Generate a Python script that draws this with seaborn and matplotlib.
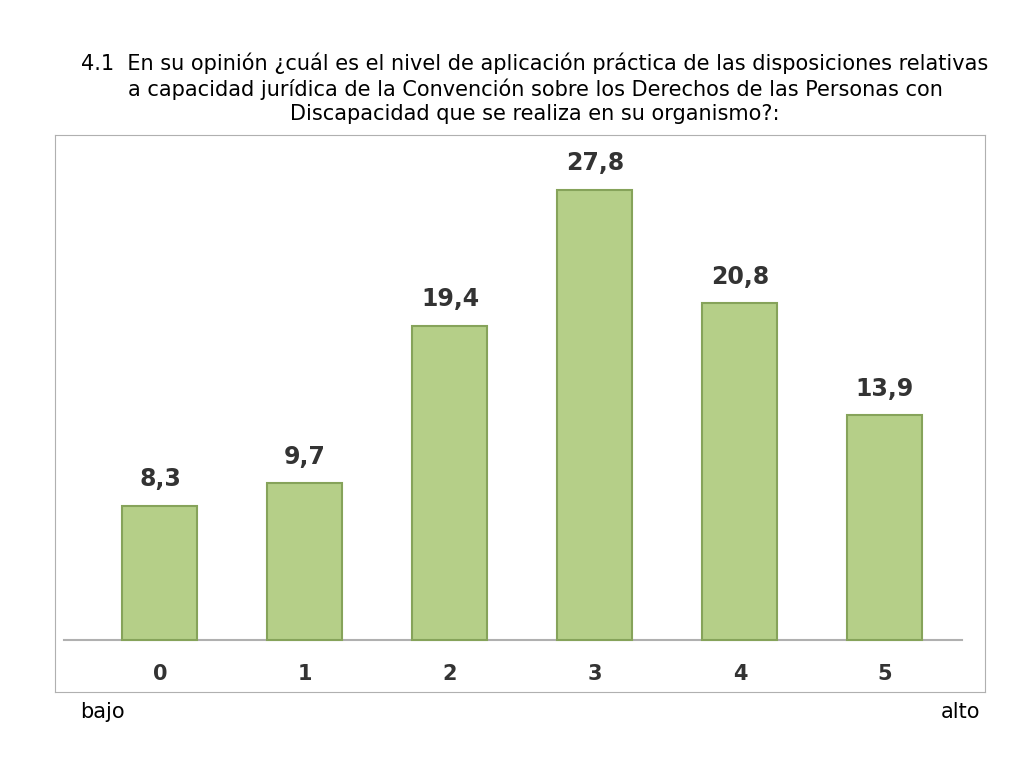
import matplotlib
matplotlib.use("Agg")
import matplotlib.pyplot as plt
import seaborn as sns
import pandas as pd

categories = ["0", "1", "2", "3", "4", "5"]
values = [8.3, 9.7, 19.4, 27.8, 20.8, 13.9]
labels = ["8,3", "9,7", "19,4", "27,8", "20,8", "13,9"]

df = pd.DataFrame({"cat": categories, "val": values})
fig = plt.figure(figsize=(10.24, 7.68), dpi=100)
ax = fig.add_axes([55/1024, 76/768, 930/1024, 557/768])
sns.barplot(data=df, x="cat", y="val", ax=ax, width=0.517, color="#b5cf88",
            edgecolor="#86a35a", linewidth=1.5, saturation=1)
ax.set_ylim(-3.2, 31.2)
ax.set_xlim(-0.724, 5.69)
ax.axhline(0, xmin=0.01, xmax=0.975, color="#b0b0b0", lw=1.5, zorder=0)
for i, (c, l, v) in enumerate(zip(categories, labels, values)):
    ax.text(i, v + 0.9, l, ha="center", va="bottom", fontsize=17, fontweight="bold", color="#333333")
    ax.text(i, -2.1, c, ha="center", va="center", fontsize=15, fontweight="bold", color="#333333")
ax.set_xticks([]); ax.set_yticks([])
ax.set_xlabel(""); ax.set_ylabel("")
for s in ax.spines.values():
    s.set_color("#b0b0b0")
fig.text(535/1024, 1-88/768,
         "4.1  En su opinión ¿cuál es el nivel de aplicación práctica de las disposiciones relativas\n"
         "a capacidad jurídica de la Convención sobre los Derechos de las Personas con\n"
         "Discapacidad que se realiza en su organismo?:",
         ha="center", va="center", fontsize=15, linespacing=1.25)
fig.text(80/1024, 1-712/768, "bajo", ha="left", va="center", fontsize=15)
fig.text(980/1024, 1-712/768, "alto", ha="right", va="center", fontsize=15)
fig.savefig("out.png", dpi=100)
